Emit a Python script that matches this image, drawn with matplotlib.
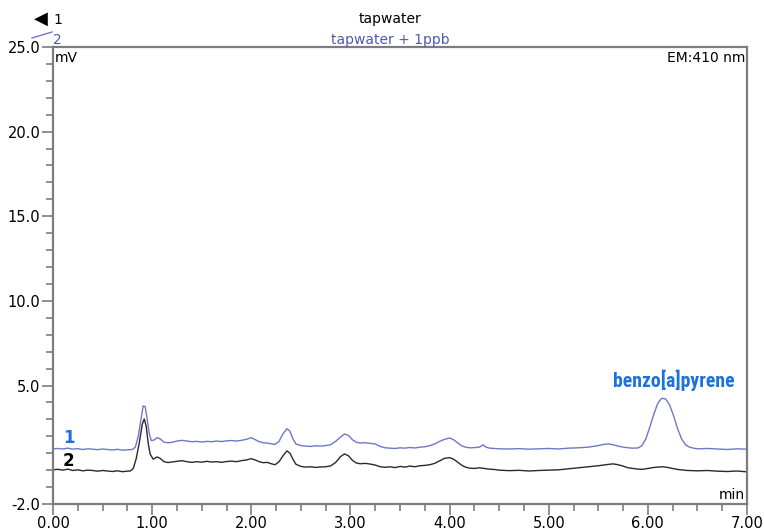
import numpy as np
import matplotlib
matplotlib.use("Agg")
import matplotlib.pyplot as plt
from matplotlib.ticker import MultipleLocator, FixedLocator
from matplotlib import font_manager

# trace 1: tapwater + 1ppb (blue)
t_spiked = [0.00, 0.05, 0.10, 0.15, 0.20, 0.25, 0.30, 0.35, 0.40, 0.45, 0.50, 0.55,
            0.60, 0.65, 0.70, 0.75, 0.80, 0.83, 0.86, 0.89, 0.91, 0.93, 0.95, 0.97,
            0.99, 1.02, 1.05, 1.08, 1.12, 1.16, 1.20, 1.25, 1.30, 1.35, 1.40, 1.45,
            1.50, 1.55, 1.60, 1.65, 1.70, 1.75, 1.80, 1.85, 1.90, 1.95, 2.00, 2.04,
            2.08, 2.12, 2.16, 2.20, 2.24, 2.28, 2.32, 2.36, 2.39, 2.42, 2.45, 2.50,
            2.55, 2.60, 2.65, 2.70, 2.75, 2.80, 2.85, 2.90, 2.94, 2.98, 3.02, 3.06,
            3.10, 3.15, 3.20, 3.25, 3.30, 3.35, 3.40, 3.45, 3.50, 3.55, 3.60, 3.65,
            3.70, 3.75, 3.80, 3.85, 3.90, 3.95, 4.00, 4.04, 4.08, 4.12, 4.16, 4.20,
            4.25, 4.30, 4.34, 4.36, 4.40, 4.45, 4.50, 4.60, 4.70, 4.80, 4.90, 5.00,
            5.10, 5.20, 5.30, 5.40, 5.50, 5.55, 5.60, 5.65, 5.70, 5.75, 5.80, 5.85,
            5.90, 5.94, 5.98, 6.02, 6.06, 6.10, 6.14, 6.18, 6.22, 6.26, 6.30, 6.34,
            6.38, 6.42, 6.46, 6.50, 6.60, 6.70, 6.80, 6.90, 7.00]
v_spiked = [1.26, 1.28, 1.25, 1.30, 1.24, 1.27, 1.22, 1.26, 1.24, 1.21, 1.25, 1.22,
            1.19, 1.23, 1.18, 1.20, 1.22, 1.35, 2.00, 3.10, 3.80, 3.75, 3.00, 2.20,
            1.75, 1.78, 1.92, 1.85, 1.65, 1.62, 1.64, 1.72, 1.76, 1.72, 1.68, 1.70,
            1.66, 1.70, 1.68, 1.72, 1.69, 1.73, 1.75, 1.72, 1.76, 1.82, 1.92, 1.80,
            1.68, 1.62, 1.60, 1.56, 1.52, 1.70, 2.15, 2.45, 2.30, 1.85, 1.55, 1.45,
            1.42, 1.40, 1.44, 1.42, 1.45, 1.50, 1.70, 1.95, 2.14, 2.05, 1.80, 1.65,
            1.60, 1.62, 1.58, 1.55, 1.40, 1.32, 1.30, 1.28, 1.32, 1.30, 1.34, 1.31,
            1.36, 1.38, 1.45, 1.55, 1.70, 1.82, 1.90, 1.80, 1.62, 1.45, 1.36, 1.32,
            1.33, 1.36, 1.50, 1.38, 1.30, 1.28, 1.26, 1.25, 1.27, 1.24, 1.26, 1.28,
            1.25, 1.30, 1.32, 1.36, 1.45, 1.52, 1.55, 1.50, 1.42, 1.36, 1.32, 1.30,
            1.31, 1.45, 1.85, 2.55, 3.30, 3.95, 4.25, 4.20, 3.85, 3.20, 2.45, 1.85,
            1.50, 1.36, 1.30, 1.26, 1.28, 1.25, 1.22, 1.26, 1.24]

# trace 2: tapwater (black)
t_blank = [0.00, 0.05, 0.10, 0.15, 0.20, 0.25, 0.30, 0.35, 0.40, 0.45, 0.50, 0.55,
           0.60, 0.65, 0.70, 0.75, 0.78, 0.81, 0.84, 0.87, 0.90, 0.92, 0.94, 0.96,
           0.98, 1.01, 1.05, 1.08, 1.12, 1.16, 1.20, 1.25, 1.30, 1.35, 1.40, 1.45,
           1.50, 1.55, 1.60, 1.65, 1.70, 1.75, 1.80, 1.85, 1.90, 1.95, 2.00, 2.04,
           2.08, 2.12, 2.16, 2.20, 2.24, 2.28, 2.32, 2.36, 2.39, 2.42, 2.45, 2.50,
           2.55, 2.60, 2.65, 2.70, 2.75, 2.80, 2.85, 2.90, 2.94, 2.98, 3.02, 3.06,
           3.10, 3.15, 3.20, 3.25, 3.30, 3.35, 3.40, 3.45, 3.50, 3.55, 3.60, 3.65,
           3.70, 3.75, 3.80, 3.85, 3.90, 3.95, 4.00, 4.04, 4.08, 4.12, 4.16, 4.20,
           4.25, 4.30, 4.35, 4.40, 4.45, 4.50, 4.60, 4.70, 4.80, 4.90, 5.00, 5.10,
           5.20, 5.30, 5.40, 5.50, 5.60, 5.65, 5.70, 5.75, 5.80, 5.85, 5.90, 5.95,
           6.00, 6.05, 6.10, 6.15, 6.20, 6.25, 6.30, 6.40, 6.50, 6.60, 6.70, 6.80,
           6.90, 7.00]
v_blank = [0.02, 0.05, 0.00, 0.06, -0.02, 0.02, -0.04, 0.00, -0.02, -0.06, -0.02, -0.05,
           -0.08, -0.04, -0.09, -0.06, -0.05, 0.10, 0.70, 1.60, 2.70, 3.03, 2.60, 1.60,
           0.95, 0.65, 0.78, 0.70, 0.50, 0.45, 0.48, 0.52, 0.56, 0.50, 0.46, 0.50,
           0.47, 0.52, 0.48, 0.50, 0.46, 0.51, 0.53, 0.50, 0.56, 0.60, 0.68, 0.60,
           0.50, 0.44, 0.46, 0.38, 0.32, 0.50, 0.85, 1.14, 1.00, 0.65, 0.35, 0.22,
           0.18, 0.20, 0.16, 0.19, 0.20, 0.25, 0.45, 0.80, 0.96, 0.85, 0.58, 0.42,
           0.38, 0.40, 0.36, 0.30, 0.20, 0.17, 0.20, 0.15, 0.22, 0.18, 0.24, 0.20,
           0.26, 0.28, 0.32, 0.40, 0.55, 0.70, 0.74, 0.65, 0.48, 0.30, 0.18, 0.12,
           0.10, 0.14, 0.10, 0.06, 0.04, 0.00, -0.03, -0.01, -0.05, -0.02, 0.00, 0.02,
           0.08, 0.14, 0.20, 0.26, 0.34, 0.37, 0.32, 0.24, 0.14, 0.10, 0.06, 0.05,
           0.10, 0.15, 0.18, 0.20, 0.16, 0.10, 0.04, -0.02, -0.04, -0.02, -0.06, -0.08,
           -0.05, -0.10]

y_major = [25, 20, 15, 10, 5, -2]
y_minor = list(range(-1, 25))

BLUE_TRACE = "#6f78c8"
BLUE_TEXT = "#4b5bb0"
BLUE_LABEL = "#1a72dd"
GREY = "#7c7c84"

# a narrow bold face for the peak label, if one is installed
installed = {f.name for f in font_manager.fontManager.ttflist}
narrow = [n for n in ["Liberation Sans Narrow", "Roboto Condensed",
                      "DejaVu Sans Condensed"] if n in installed]

fig = plt.figure(figsize=(7.64, 5.31), dpi=100)
ax = fig.add_axes([53 / 764, 1 - 504 / 531, 694 / 764, 457 / 531])

ax.plot(t_spiked, v_spiked, color=BLUE_TRACE, lw=1.0)
ax.plot(t_blank, v_blank, color="#2a2a2a", lw=1.0)

ax.set_xlim(0, 7)
ax.set_ylim(-2, 25)

ax.xaxis.set_major_locator(MultipleLocator(1))
ax.xaxis.set_minor_locator(MultipleLocator(0.25))
ax.xaxis.set_major_formatter(plt.FuncFormatter(lambda v, p: "%.2f" % v))
ax.yaxis.set_major_locator(FixedLocator(y_major))
ax.yaxis.set_minor_locator(FixedLocator([m for m in y_minor if m not in y_major]))
ax.yaxis.set_major_formatter(plt.FuncFormatter(lambda v, p: "%.1f" % v))

for s in ax.spines.values():
    s.set_color(GREY)
    s.set_linewidth(1.6)

ax.tick_params(which="major", direction="out", length=8, width=1.2,
               color=GREY, labelsize=10.5, pad=1)
ax.tick_params(which="minor", direction="out", length=5, width=1.2, color=GREY)
for lab in ax.get_xticklabels() + ax.get_yticklabels():
    lab.set_fontweight("medium")

# labels inside the plot
ax.text(0.003, 0.992, "mV", transform=ax.transAxes, ha="left", va="top", fontsize=10)
ax.text(0.997, 0.992, "EM:410 nm", transform=ax.transAxes, ha="right", va="top",
        fontsize=10)
ax.text(0.997, 0.005, "min", transform=ax.transAxes, ha="right", va="bottom",
        fontsize=10)
if narrow:
    ax.text(6.26, 4.7, "benzo[a]pyrene", ha="center", va="bottom", fontsize=14.2,
            fontweight="bold", color=BLUE_LABEL, family=narrow + ["DejaVu Sans"])
else:
    ax.text(6.26, 4.7, "benzo[a]pyrene", ha="center", va="bottom", fontsize=12,
            fontweight="bold", color=BLUE_LABEL, family="Roboto",
            fontstretch="condensed")
ax.text(0.1, 1.9, "1", ha="left", va="center", fontsize=12, fontweight="bold",
        color=BLUE_LABEL)
ax.text(0.1, 0.55, "2", ha="left", va="center", fontsize=12, fontweight="bold",
        color="black")

# header
fig.text(390 / 764, 1 - 19 / 531, "tapwater", ha="center", va="center", fontsize=10)
fig.text(390 / 764, 1 - 40 / 531, "tapwater + 1ppb", ha="center", va="center",
         fontsize=10, color=BLUE_TEXT)
fig.text(41 / 764, 1 - 19 / 531, "\u25c0", ha="center", va="center", fontsize=13)
fig.text(53 / 764, 1 - 20 / 531, "1", ha="left", va="center", fontsize=10)
fig.add_artist(plt.Line2D([32 / 764, 52 / 764], [1 - 38 / 531, 1 - 32 / 531],
                          color=BLUE_TRACE, lw=1))
fig.text(53 / 764, 1 - 40 / 531, "2", ha="left", va="center", fontsize=10,
         color=BLUE_TEXT)

fig.savefig("out.png", dpi=100)
